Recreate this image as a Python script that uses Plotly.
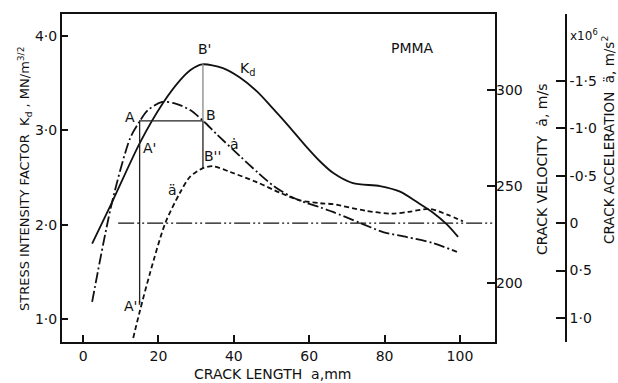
import plotly.graph_objects as go

# ---------------- data ----------------
# Stress intensity factor Kd (MN/m^3/2) vs crack length a (mm)
kd_x = [2.4, 7.7, 15.1, 21.2, 25.7, 28.5, 31.6, 37.1, 41.6, 46.2, 50.4, 54.9, 59.4,
        62.9, 66.3, 71.6, 78.8, 84.1, 88.6, 92.8, 96.6, 99.5]
kd_y = [1.80, 2.24, 2.87, 3.29, 3.53, 3.64, 3.70, 3.66, 3.56, 3.41, 3.23, 3.03, 2.82,
        2.67, 2.55, 2.44, 2.41, 2.35, 2.24, 2.13, 2.00, 1.87]

# Crack velocity (m/s)
vel_x = [2.4, 7.7, 12.5, 14.9, 17.2, 21.0, 24.5, 28.4, 31.6, 35.5, 41.6, 46.2, 50.4,
         54.9, 59.0, 62.9, 66.3, 73.5, 79.6, 85.9, 92.8, 99.2]
vel_y = [190.2, 242.0, 275.1, 283.4, 289.6, 293.8, 293.0, 289.6, 284.5, 277.0, 265.8,
         257.5, 250.5, 245.0, 241.6, 239.2, 236.8, 231.1, 226.4, 223.8, 220.7, 216.1]

# Crack acceleration (x10^6 m/s^2)
acc_x = [13.3, 15.1, 17.8, 21.8, 25.7, 28.4, 31.8, 34.5, 39.0, 46.2, 52.3, 57.6, 62.9,
         66.3, 75.1, 82.0, 86.5, 92.0, 96.6, 100.8]
acc_y = [1.21, 0.92, 0.52, 0.0, -0.32, -0.49, -0.58, -0.60, -0.54, -0.43, -0.32, -0.24,
         -0.21, -0.20, -0.13, -0.10, -0.12, -0.15, -0.09, -0.02]

# construction lines (in Kd units)
guide_a_x = [15.0, 15.0, 31.8, 31.8]
guide_a_k = [1.17, 3.10, 3.10, 2.60]
guide_b_x = [31.8, 31.8]
guide_b_k = [3.10, 3.71]
zero_line_x = [9.3, 109.0]
zero_line_acc = [0.0, 0.0]

# ticks
x_ticks = [0, 20, 40, 60, 80, 100]
k_ticks = [1.0, 2.0, 3.0, 4.0]
k_ticktext = ["1·0", "2·0", "3·0", "4·0"]
v_ticks = [200, 250, 300]
acc_ticks = [-1.5, -1.0, -0.5, 0.0, 0.5, 1.0]
acc_ticktext = ["-1·5", "-1·0", "-0·5", "0", "0·5", "1·0"]

# point labels (text, x, Kd)
point_labels = ["A", "A'", "A''", "B", "B'", "B''"]
point_lx = [12.5, 17.6, 13.2, 33.9, 32.1, 34.3]
point_lk = [3.14, 2.81, 1.14, 3.16, 3.86, 2.73]

W, H = 618, 383
FONT = "DejaVu Sans"
BLACK = "#111111"
SM = 0.8

fig = go.Figure()

fig.add_trace(go.Scatter(x=kd_x, y=kd_y, mode="lines", yaxis="y",
                         line=dict(color=BLACK, width=1.8, shape="spline", smoothing=SM),
                         showlegend=False, hoverinfo="skip"))
fig.add_trace(go.Scatter(x=vel_x, y=vel_y, mode="lines", yaxis="y2",
                         line=dict(color=BLACK, width=1.8, shape="spline", smoothing=SM,
                                   dash="11px,3px,2px,3px"),
                         showlegend=False, hoverinfo="skip"))
fig.add_trace(go.Scatter(x=acc_x, y=acc_y, mode="lines", yaxis="y3",
                         line=dict(color=BLACK, width=1.8, shape="spline", smoothing=SM,
                                   dash="5px,3px"),
                         showlegend=False, hoverinfo="skip"))
fig.add_trace(go.Scatter(x=zero_line_x, y=zero_line_acc, mode="lines", yaxis="y3",
                         line=dict(color=BLACK, width=1.2, dash="16px,3px,2px,3px,2px,3px"),
                         showlegend=False, hoverinfo="skip"))
fig.add_trace(go.Scatter(x=guide_a_x, y=guide_a_k, mode="lines", yaxis="y",
                         line=dict(color="#222222", width=1.3),
                         showlegend=False, hoverinfo="skip"))
fig.add_trace(go.Scatter(x=guide_b_x, y=guide_b_k, mode="lines", yaxis="y",
                         line=dict(color="#888888", width=1.3),
                         showlegend=False, hoverinfo="skip"))

x0, x1 = 62 / W, 495 / W
y0, y1 = (H - 342) / H, (H - 14) / H
tickfont = dict(family=FONT, size=14, color=BLACK)

fig.update_layout(
    width=W, height=H,
    margin=dict(l=0, r=0, t=0, b=0),
    paper_bgcolor="white", plot_bgcolor="white",
    font=dict(family=FONT, size=14, color=BLACK),
    xaxis=dict(domain=[x0, x1], range=[-5.6, 109.3], tickvals=x_ticks,
               ticks="inside", ticklen=7, tickwidth=1.5, tickcolor=BLACK,
               showline=True, mirror=True, linecolor=BLACK, linewidth=2,
               showgrid=False, zeroline=False, tickfont=tickfont, anchor="y"),
    yaxis=dict(domain=[y0, y1], range=[0.756, 4.234], tickvals=k_ticks,
               ticktext=k_ticktext, ticks="inside", ticklen=6, tickwidth=1.5,
               tickcolor=BLACK, showline=True, mirror=True, linecolor=BLACK,
               linewidth=2, showgrid=False, zeroline=False, tickfont=tickfont),
    yaxis2=dict(overlaying="y", side="right", anchor="x", range=[169.4, 339.4],
                tickvals=v_ticks, ticks="inside", ticklen=8, tickwidth=1.5,
                tickcolor=BLACK, showline=False, showgrid=False, zeroline=False,
                tickfont=tickfont),
    yaxis3=dict(overlaying="y", side="right", anchor="free", position=566 / W,
                range=[1.253, -2.205], tickvals=acc_ticks, ticktext=acc_ticktext,
                ticks="inside", ticklen=9, tickwidth=1.5, tickcolor=BLACK,
                showline=True, linecolor=BLACK, linewidth=1.6, showgrid=False,
                zeroline=False, tickfont=tickfont),
)

lab = dict(family=FONT, size=14, color=BLACK)
annotations = []
for t, lx, lk in zip(point_labels, point_lx, point_lk):
    annotations.append(dict(x=lx, y=lk, xref="x", yref="y", text=t, showarrow=False,
                            font=lab))
annotations += [
    dict(x=43.5, y=3.65, xref="x", yref="y", text="K<sub>d</sub>", showarrow=False, font=lab),
    dict(x=40.1, y=2.86, xref="x", yref="y", text="ȧ", showarrow=False, font=lab),
    dict(x=23.6, y=2.37, xref="x", yref="y", text="ä", showarrow=False, font=lab),
    dict(x=87.5, y=3.87, xref="x", yref="y", text="PMMA", showarrow=False, font=lab),
    dict(x=568 / W, y=(H - 35) / H, xref="paper", yref="paper", xanchor="left",
         yanchor="middle", text="x10<sup>6</sup>", showarrow=False,
         font=dict(family=FONT, size=12, color=BLACK)),
    dict(x=272 / W, y=(H - 374) / H, xref="paper", yref="paper", yanchor="middle",
         text="CRACK LENGTH  a,mm", showarrow=False, font=lab),
    dict(x=25 / W, y=(H - 179) / H, xref="paper", yref="paper", textangle=-90,
         xanchor="center", yanchor="middle",
         text="STRESS INTENSITY FACTOR  K<sub>d</sub> , MN/m<sup>3/2</sup>",
         showarrow=False, font=dict(family=FONT, size=13, color=BLACK)),
    dict(x=542 / W, y=(H - 170) / H, xref="paper", yref="paper", textangle=-90,
         xanchor="center", yanchor="middle",
         text="CRACK VELOCITY  ȧ, m/s", showarrow=False, font=lab),
    dict(x=608 / W, y=(H - 140) / H, xref="paper", yref="paper", textangle=-90,
         xanchor="center", yanchor="middle",
         text="CRACK ACCELERATION  ä, m/s<sup>2</sup>", showarrow=False,
         font=dict(family=FONT, size=13.5, color=BLACK)),
]
fig.update_layout(annotations=annotations)

fig.write_html("out.html")
